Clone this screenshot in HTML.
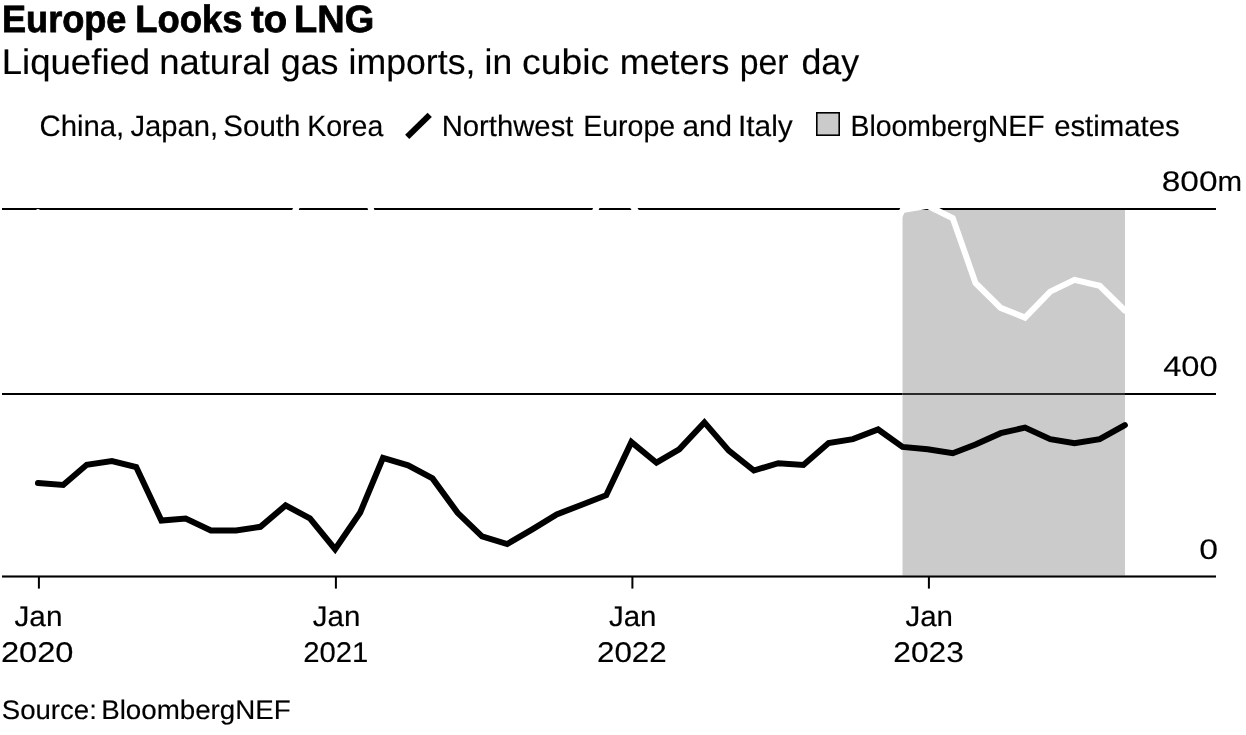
<!DOCTYPE html>
<html><head><meta charset="utf-8"><title>Europe Looks to LNG</title>
<style>html,body{margin:0;padding:0;background:#fff;overflow:hidden}svg{display:block;will-change:transform}text{font-family:"Liberation Sans",sans-serif;fill:#000;text-rendering:geometricPrecision}</style></head><body>
<svg width="1246" height="735" viewBox="0 0 1246 735">
<rect width="1246" height="735" fill="#fff"/>
<rect x="2" y="208" width="1214" height="2" fill="#000"/>
<rect x="2" y="393" width="1214" height="2" fill="#000"/>
<rect x="902.5" y="210" width="222.5" height="365.5" fill="#cbcbcb"/>
<rect x="902.5" y="393" width="222.5" height="2" fill="#2a2a2a"/>
<rect x="2" y="575.45" width="1214" height="2.1" fill="#000"/>
<rect x="37.9" y="576" width="2" height="12.6" fill="#000"/>
<rect x="334.9" y="576" width="2" height="12.6" fill="#000"/>
<rect x="631.4" y="576" width="2" height="12.6" fill="#000"/>
<rect x="927.9" y="576" width="2" height="12.6" fill="#000"/>
<path d="M38.0,212.2 L63.2,235.0 L86.7,250.0 L111.9,270.0 L136.2,290.0 L161.4,300.0 L185.7,290.0 L210.9,280.0 L236.1,275.0 L260.4,260.0 L285.6,234.7 L309.9,173.8 L335.1,150.0 L360.2,176.9 L383.0,245.1 L408.1,270.0 L432.5,290.0 L457.6,300.0 L482.0,300.0 L507.2,295.0 L532.3,285.0 L556.7,260.0 L581.8,244.0 L606.2,183.2 L631.4,204.3 L656.5,242.0 L679.2,260.0 L704.4,275.0 L728.8,290.0 L753.9,300.0 L778.3,300.0 L803.4,295.0 L828.6,285.0 L852.9,270.0 L878.1,258.8 L902.5,210.1 L927.6,205.7 L952.8,218.2 L975.5,283.0 L1000.7,307.9 L1025.0,317.6 L1050.2,291.6 L1074.5,279.9 L1099.7,285.8 L1124.9,310.5" fill="none" stroke="#fff" stroke-width="6" stroke-linecap="round" stroke-linejoin="miter"/>
<path d="M38.0,483.0 L63.2,485.0 L86.7,464.8 L111.9,461.1 L136.2,467.0 L161.4,520.6 L185.7,518.5 L210.9,530.5 L236.1,530.5 L260.4,526.8 L285.6,505.4 L309.9,518.4 L335.1,549.2 L360.2,512.5 L383.0,457.8 L408.1,465.3 L432.5,478.4 L457.6,512.8 L482.0,536.4 L507.2,544.0 L532.3,529.3 L556.7,514.4 L581.8,504.7 L606.2,495.2 L631.4,442.1 L656.5,462.7 L679.2,449.4 L704.4,422.4 L728.8,450.6 L753.9,470.5 L778.3,463.2 L803.4,464.9 L828.6,443.0 L852.9,439.1 L878.1,429.5 L902.5,446.9 L927.6,449.2 L952.8,453.2 L975.5,444.6 L1000.7,433.2 L1025.0,427.6 L1050.2,439.2 L1074.5,443.2 L1099.7,439.2 L1124.9,425.1" fill="none" stroke="#000" stroke-width="6" stroke-linecap="round" stroke-linejoin="miter"/>
<line x1="407.2" y1="136.8" x2="429.7" y2="114.8" stroke="#000" stroke-width="6"/>
<rect x="816.8" y="112.8" width="22.4" height="22.4" fill="#cbcbcb" stroke="#000" stroke-width="1.6"/>
<text x="2.00" y="32.00" font-size="38" font-weight="bold" stroke="#000" stroke-width="0.8" textLength="124.43" lengthAdjust="spacingAndGlyphs">Europe</text>
<text x="135.35" y="32.00" font-size="38" font-weight="bold" stroke="#000" stroke-width="0.8" textLength="107.02" lengthAdjust="spacingAndGlyphs">Looks</text>
<text x="250.95" y="32.00" font-size="38" font-weight="bold" stroke="#000" stroke-width="0.8" textLength="36.07" lengthAdjust="spacingAndGlyphs">to</text>
<text x="294.05" y="32.00" font-size="38" font-weight="bold" stroke="#000" stroke-width="0.8" textLength="80.14" lengthAdjust="spacingAndGlyphs">LNG</text>
<text x="1.70" y="74.00" font-size="35.5" stroke="#000" stroke-width="0.15" textLength="148.53" lengthAdjust="spacingAndGlyphs">Liquefied</text>
<text x="159.15" y="74.00" font-size="35.5" stroke="#000" stroke-width="0.15" textLength="111.53" lengthAdjust="spacingAndGlyphs">natural</text>
<text x="280.75" y="74.00" font-size="35.5" stroke="#000" stroke-width="0.15" textLength="57.81" lengthAdjust="spacingAndGlyphs">gas</text>
<text x="348.60" y="74.00" font-size="35.5" stroke="#000" stroke-width="0.15" textLength="126.77" lengthAdjust="spacingAndGlyphs">imports,</text>
<text x="484.60" y="74.00" font-size="35.5" stroke="#000" stroke-width="0.15" textLength="27.62" lengthAdjust="spacingAndGlyphs">in</text>
<text x="522.00" y="74.00" font-size="35.5" stroke="#000" stroke-width="0.15" textLength="87.22" lengthAdjust="spacingAndGlyphs">cubic</text>
<text x="619.75" y="74.00" font-size="35.5" stroke="#000" stroke-width="0.15" textLength="109.66" lengthAdjust="spacingAndGlyphs">meters</text>
<text x="739.65" y="74.00" font-size="35.5" stroke="#000" stroke-width="0.15" textLength="48.83" lengthAdjust="spacingAndGlyphs">per</text>
<text x="801.40" y="74.00" font-size="35.5" stroke="#000" stroke-width="0.15" textLength="57.74" lengthAdjust="spacingAndGlyphs">day</text>
<text x="39.45" y="135.60" font-size="29.5" stroke="#000" stroke-width="0.15" textLength="84.84" lengthAdjust="spacingAndGlyphs">China,</text>
<text x="130.40" y="135.60" font-size="29.5" stroke="#000" stroke-width="0.15" textLength="87.75" lengthAdjust="spacingAndGlyphs">Japan,</text>
<text x="223.35" y="135.60" font-size="29.5" stroke="#000" stroke-width="0.15" textLength="77.13" lengthAdjust="spacingAndGlyphs">South</text>
<text x="307.25" y="135.60" font-size="29.5" stroke="#000" stroke-width="0.15" textLength="76.01" lengthAdjust="spacingAndGlyphs">Korea</text>
<text x="441.65" y="135.60" font-size="29.5" stroke="#000" stroke-width="0.15" textLength="131.79" lengthAdjust="spacingAndGlyphs">Northwest</text>
<text x="583.25" y="135.60" font-size="29.5" stroke="#000" stroke-width="0.15" textLength="91.88" lengthAdjust="spacingAndGlyphs">Europe</text>
<text x="682.60" y="135.60" font-size="29.5" stroke="#000" stroke-width="0.15" textLength="49.53" lengthAdjust="spacingAndGlyphs">and</text>
<text x="738.00" y="135.60" font-size="29.5" stroke="#000" stroke-width="0.15" textLength="54.77" lengthAdjust="spacingAndGlyphs">Italy</text>
<text x="850.55" y="135.60" font-size="29.5" stroke="#000" stroke-width="0.15" textLength="194.10" lengthAdjust="spacingAndGlyphs">BloombergNEF</text>
<text x="1054.15" y="135.60" font-size="29.5" stroke="#000" stroke-width="0.15" textLength="125.49" lengthAdjust="spacingAndGlyphs">estimates</text>
<text x="1161.75" y="191.00" font-size="28.3" stroke="#000" stroke-width="0.15" textLength="55.81" lengthAdjust="spacingAndGlyphs">800</text>
<text x="1217.40" y="191.00" font-size="28.3" stroke="#000" stroke-width="0.15" textLength="24.56" lengthAdjust="spacingAndGlyphs">m</text>
<text x="1163.20" y="375.70" font-size="28.3" stroke="#000" stroke-width="0.15" textLength="54.41" lengthAdjust="spacingAndGlyphs">400</text>
<text x="1199.20" y="558.90" font-size="28.3" stroke="#000" stroke-width="0.15" textLength="18.77" lengthAdjust="spacingAndGlyphs">0</text>
<text x="14.50" y="625.50" font-size="28.5" stroke="#000" stroke-width="0.15" textLength="47.92" lengthAdjust="spacingAndGlyphs">Jan</text>
<text x="0.90" y="661.60" font-size="28.5" stroke="#000" stroke-width="0.15" textLength="72.65" lengthAdjust="spacingAndGlyphs">2020</text>
<text x="312.80" y="625.50" font-size="28.5" stroke="#000" stroke-width="0.15" textLength="47.55" lengthAdjust="spacingAndGlyphs">Jan</text>
<text x="303.30" y="661.60" font-size="28.5" stroke="#000" stroke-width="0.15" textLength="65.06" lengthAdjust="spacingAndGlyphs">2021</text>
<text x="608.95" y="625.50" font-size="28.5" stroke="#000" stroke-width="0.15" textLength="47.56" lengthAdjust="spacingAndGlyphs">Jan</text>
<text x="597.00" y="661.60" font-size="28.5" stroke="#000" stroke-width="0.15" textLength="69.74" lengthAdjust="spacingAndGlyphs">2022</text>
<text x="905.45" y="625.50" font-size="28.5" stroke="#000" stroke-width="0.15" textLength="47.56" lengthAdjust="spacingAndGlyphs">Jan</text>
<text x="893.30" y="661.60" font-size="28.5" stroke="#000" stroke-width="0.15" textLength="70.61" lengthAdjust="spacingAndGlyphs">2023</text>
<text x="1.75" y="719.20" font-size="26.8" stroke="#000" stroke-width="0.15" textLength="95.10" lengthAdjust="spacingAndGlyphs">Source:</text>
<text x="101.20" y="719.20" font-size="26.8" stroke="#000" stroke-width="0.15" textLength="189.55" lengthAdjust="spacingAndGlyphs">BloombergNEF</text>
</svg></body></html>
